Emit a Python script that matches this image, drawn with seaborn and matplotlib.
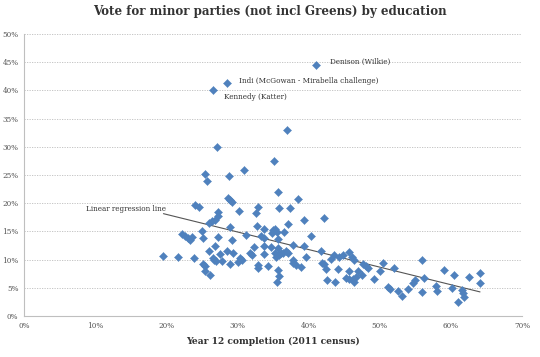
import numpy as np
import pandas as pd
import matplotlib
matplotlib.use("Agg")
import matplotlib.pyplot as plt
import seaborn as sns
from matplotlib.ticker import MultipleLocator, PercentFormatter

# ---- data (percent) ----
year12 = [
    25.5, 25.7, 28.8, 30.9, 24.1, 24.6, 28.7, 29.0, 29.2, 30.2,
    27.3, 27.2, 26.8, 26.4, 26.0, 29.0, 25.0, 22.2, 22.6, 23.0,
    23.6, 23.3, 25.1, 27.2, 29.3, 31.2, 26.9, 26.0, 27.6, 28.5,
    29.4, 30.3, 30.7, 30.1, 29.0, 26.5, 26.7, 27.0, 27.8, 19.6,
    21.6, 23.9, 25.1, 25.4, 25.4, 26.1, 27.1,
    36.9, 35.2, 35.7, 38.5, 35.9, 37.4, 32.9, 32.6, 39.4, 42.1,
    32.7, 33.8, 35.0, 35.3, 35.5, 34.9, 36.5, 37.1, 33.3, 33.7,
    40.3, 35.7, 32.3, 33.8, 34.7, 35.7, 37.8, 39.3, 36.8, 37.1,
    31.8, 32.0, 33.8, 35.3, 35.4, 35.9, 36.1, 36.4, 37.8, 37.8,
    38.2, 38.9, 39.6, 32.9, 32.9, 34.3, 35.7, 35.9, 35.6, 41.7,
    41.9, 42.1, 42.5, 43.1, 43.6, 44.3, 44.2, 42.6, 43.7, 44.8,
    45.7, 46.1, 46.4, 47.6, 48.1, 48.3, 50.4, 50.0, 52.0, 45.7,
    46.9, 47.5, 45.3, 45.7, 46.3, 46.7, 46.4, 49.2, 51.2, 51.4,
    52.5, 53.2, 54.0, 54.7, 55.0, 55.9, 56.2, 55.9, 57.9, 58.1,
    59.0, 60.4, 62.6, 64.1, 64.1, 60.2, 61.5, 61.7, 61.9, 61.0,
]
minor_vote = [
    25.2, 24.0, 24.8, 25.8, 19.6, 19.3, 21.0, 20.6, 20.3, 18.6,
    18.5, 17.7, 17.0, 16.8, 16.5, 15.8, 15.1, 14.5, 14.2, 13.8,
    14.0, 13.5, 13.9, 14.0, 13.5, 14.3, 12.5, 11.5, 11.0, 11.5,
    11.1, 10.2, 9.9, 9.6, 9.2, 10.2, 9.9, 9.8, 9.75, 10.6,
    10.5, 10.2, 9.3, 8.9, 7.9, 7.3, 29.9,
    32.9, 27.4, 21.9, 20.7, 19.2, 19.2, 19.3, 18.3, 17.0, 17.4,
    16.0, 15.4, 15.2, 15.4, 14.9, 14.7, 14.9, 16.3, 14.1, 13.8,
    14.2, 13.7, 12.3, 12.4, 12.3, 12.0, 12.6, 12.5, 11.5, 11.2,
    11.1, 10.8, 11.0, 11.1, 10.5, 10.8, 11.1, 11.2, 9.9, 9.45,
    9.0, 8.7, 10.5, 9.0, 8.5, 8.9, 8.2, 7.1, 6.0, 11.5,
    9.45, 9.2, 8.3, 10.1, 10.8, 10.5, 8.3, 6.4, 6.1, 10.8,
    11.4, 10.4, 9.9, 9.3, 8.9, 8.5, 9.45, 7.9, 8.5, 8.0,
    8.0, 7.3, 6.7, 6.6, 6.5, 6.9, 6.1, 6.5, 5.2, 4.8,
    4.5, 3.5, 4.7, 5.9, 6.4, 9.9, 6.8, 4.25, 5.3, 4.5,
    8.2, 7.3, 7.0, 7.6, 5.9, 4.9, 4.6, 4.1, 3.3, 2.5,
]

# named outlier seats
seat_names = ["Denison (Wilkie)", "Indi (McGowan - Mirabella challenge)", "Kennedy (Katter)"]
seat_year12 = [41.0, 28.5, 26.5]
seat_vote = [44.5, 41.3, 40.1]

df = pd.DataFrame({
    "year12": year12 + seat_year12,
    "vote": minor_vote + seat_vote,
})

sns.set_theme(style="white")
plt.rcParams["font.family"] = ["DejaVu Serif"]

fig = plt.figure(figsize=(5.4, 3.57), dpi=100)
W, H = 540, 357
ax = fig.add_axes([24 / W, 1 - 316 / H, (522 - 24) / W, (316 - 34) / H])

blue = "#4F81BD"
sns.scatterplot(data=df, x="year12", y="vote", marker="D", s=17,
                color=blue, edgecolor=blue, linewidth=0.3, ax=ax, zorder=3)
sns.regplot(data=df, x="year12", y="vote", scatter=False, ci=None, truncate=True,
            line_kws=dict(color="#555555", lw=0.8), ax=ax)

ax.set_xlim(0, 70)
ax.set_ylim(0, 50)
ax.xaxis.set_major_locator(MultipleLocator(10))
ax.yaxis.set_major_locator(MultipleLocator(5))
ax.xaxis.set_major_formatter(PercentFormatter(decimals=0))
ax.yaxis.set_major_formatter(PercentFormatter(decimals=0))
ax.tick_params(axis="both", labelsize=5.2, colors="#555555", length=0, pad=4)
ax.yaxis.grid(True, color="#BDBDBD", linestyle=(0, (1.5, 1.5)), linewidth=0.6)
ax.xaxis.grid(False)
ax.set_axisbelow(True)
for s in ["top", "right"]:
    ax.spines[s].set_visible(False)
for s in ["left", "bottom"]:
    ax.spines[s].set_color("#BFBFBF")
    ax.spines[s].set_linewidth(0.8)

ax.set_ylabel("")
ax.set_xlabel("Year 12 completion (2011 census)", fontsize=6.6, fontweight="bold",
              color="#333333", labelpad=5)
fig.suptitle("Vote for minor parties (not incl Greens) by education", x=0.5, y=0.985,
             fontsize=8.6, fontweight="bold", color="#333333")

offsets = [(10, 2.5), (8.6, 1.5), (8.3, -5.5)]
for name, xv, yv, off in zip(seat_names, seat_year12, seat_vote, offsets):
    ax.annotate(name, (xv, yv), xytext=off, textcoords="offset points",
                ha="left", va="center", fontsize=5.2, color="#333333")

ax.text(19.9, 18.9, "Linear regression line", ha="right", va="center",
        fontsize=5.2, color="#333333")

fig.savefig("out.png", dpi=100)
